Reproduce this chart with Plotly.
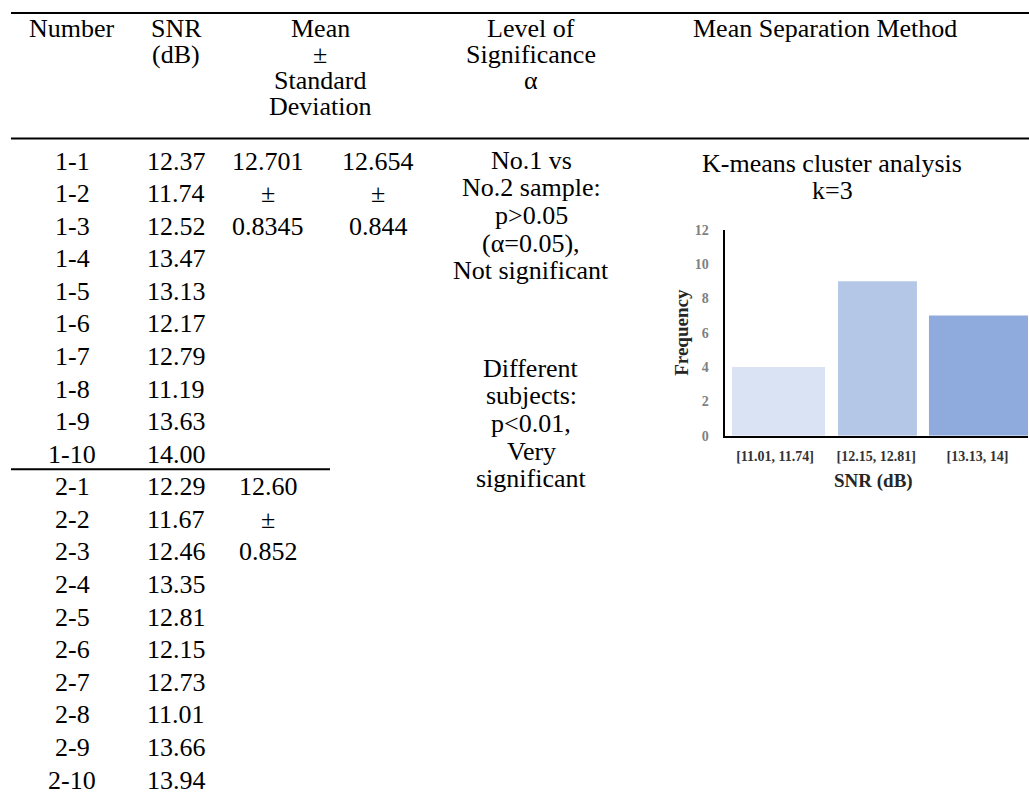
import plotly.graph_objects as go

# ---- table contents ----
sample_ids_1 = ["1-1", "1-2", "1-3", "1-4", "1-5", "1-6", "1-7", "1-8", "1-9", "1-10"]
snr_db_1 = [12.37, 11.74, 12.52, 13.47, 13.13, 12.17, 12.79, 11.19, 13.63, 14.00]
sample_ids_2 = ["2-1", "2-2", "2-3", "2-4", "2-5", "2-6", "2-7", "2-8", "2-9", "2-10"]
snr_db_2 = [12.29, 11.67, 12.46, 13.35, 12.81, 12.15, 12.73, 11.01, 13.66, 13.94]

mean_sd_1a = ["12.701", "±", "0.8345"]
mean_sd_1b = ["12.654", "±", "0.844"]
mean_sd_2 = ["12.60", "±", "0.852"]

header_number = ["Number"]
header_snr = ["SNR", "(dB)"]
header_mean = ["Mean", "±", "Standard", "Deviation"]
header_level = ["Level of", "Significance", "α"]
header_method = ["Mean Separation Method"]

level_lines_a = ["No.1 vs", "No.2 sample:", "p>0.05", "(α=0.05),", "Not significant"]
level_lines_b = ["Different", "subjects:", "p<0.01,", "Very", "significant"]
method_lines = ["K-means cluster analysis", "k=3"]

# ---- cluster histogram ----
cluster_ranges = ["[11.01, 11.74]", "[12.15, 12.81]", "[13.13, 14]"]
cluster_counts = [4, 9, 7]
y_ticks = [0, 2, 4, 6, 8, 10, 12]

W, H = 1029, 800
SERIF = '"Liberation Serif", "Times New Roman", Times, serif'
FS = 26


def px(x):
    return x / W


def py(y):
    return 1 - y / H


annotations = []


def put(text, x, y, size=FS, color="black"):
    annotations.append(dict(
        text=text, x=px(x), y=py(y), xref="paper", yref="paper",
        xanchor="center", yanchor="middle", showarrow=False,
        font=dict(family=SERIF, size=size, color=color),
    ))


# column centres and row layout
COL_NUM, COL_SNR, COL_MA, COL_MB, COL_MEAN = 72, 176, 268, 378, 320
COL_LEVEL, COL_METHOD = 531, 825
HEAD_Y0, HEAD_DY = 22, 26.3
ROW_Y0, ROW_DY = 157, 33.2

for i, t in enumerate(header_number):
    put(t, COL_NUM, HEAD_Y0 + i * HEAD_DY)
for i, t in enumerate(header_snr):
    put(t, COL_SNR, HEAD_Y0 + i * HEAD_DY)
for i, t in enumerate(header_mean):
    put(t, COL_MEAN, HEAD_Y0 + i * HEAD_DY)
for i, t in enumerate(header_level):
    put(t, COL_LEVEL, HEAD_Y0 + i * HEAD_DY)
for i, t in enumerate(header_method):
    put(t, COL_METHOD, HEAD_Y0 + i * HEAD_DY)

for i, (sid, v) in enumerate(zip(sample_ids_1, snr_db_1)):
    y = ROW_Y0 + i * ROW_DY
    put(sid, COL_NUM, y)
    put(f"{v:.2f}", COL_SNR, y)
for i, (sid, v) in enumerate(zip(sample_ids_2, snr_db_2)):
    y = ROW_Y0 + (i + 10) * ROW_DY
    put(sid, COL_NUM, y)
    put(f"{v:.2f}", COL_SNR, y)

for i, t in enumerate(mean_sd_1a):
    put(t, COL_MA, ROW_Y0 + i * ROW_DY)
for i, t in enumerate(mean_sd_1b):
    put(t, COL_MB, ROW_Y0 + i * ROW_DY)
for i, t in enumerate(mean_sd_2):
    put(t, COL_MA, ROW_Y0 + (i + 10) * ROW_DY)

LEVEL_DY = 28.2
for i, t in enumerate(level_lines_a):
    put(t, COL_LEVEL, 156 + i * LEVEL_DY)
for i, t in enumerate(level_lines_b):
    put(t, COL_LEVEL, 368 + i * LEVEL_DY)

for i, t in enumerate(method_lines):
    put(t, 832, 160 + i * 27)

# axis titles of the embedded histogram
put("<b>SNR (dB)</b>", 873, 483, size=19, color="#262626")
annotations.append(dict(
    text="<b>Frequency</b>", x=px(682), y=py(332), xref="paper", yref="paper",
    xanchor="center", yanchor="middle", showarrow=False, textangle=-90,
    font=dict(family=SERIF, size=19, color="#262626"),
))

# table rules
shapes = [
    dict(type="line", xref="paper", yref="paper", x0=px(11), x1=1, y0=py(6), y1=py(6),
         line=dict(color="black", width=2)),
    dict(type="line", xref="paper", yref="paper", x0=px(11), x1=1, y0=py(134), y1=py(134),
         line=dict(color="black", width=2)),
    dict(type="line", xref="paper", yref="paper", x0=px(11), x1=px(330), y0=py(471), y1=py(471),
         line=dict(color="black", width=2)),
]

fig = go.Figure()
fig.add_trace(go.Bar(
    x=cluster_ranges, y=cluster_counts,
    width=[0.92, 0.78, 0.98], offset=[-0.426, -0.378, -0.479],
    marker=dict(color=["#DAE3F3", "#B4C7E7", "#8FAADC"], line=dict(width=0)),
    showlegend=False, hoverinfo="skip",
))

fig.update_layout(
    width=W, height=H,
    margin=dict(l=0, r=0, t=0, b=0),
    paper_bgcolor="white", plot_bgcolor="white",
    annotations=annotations, shapes=shapes,
    xaxis=dict(
        domain=[px(724.5), px(1028)], type="category", range=[-0.5, 2.5],
        showline=True, linecolor="black", linewidth=2, showgrid=False,
        ticks="", ticklabelstandoff=6,
        tickfont=dict(family=SERIF, size=14, color="#333333", weight="bold"),
    ),
    yaxis=dict(
        domain=[py(437), py(227)], range=[0, 12], tickvals=y_ticks,
        showline=True, linecolor="black", linewidth=2, showgrid=False, zeroline=False,
        ticks="", ticklabelstandoff=11,
        tickfont=dict(family=SERIF, size=14, color="#7f7f7f", weight="bold"),
    ),
)

fig.write_html("out.html")
